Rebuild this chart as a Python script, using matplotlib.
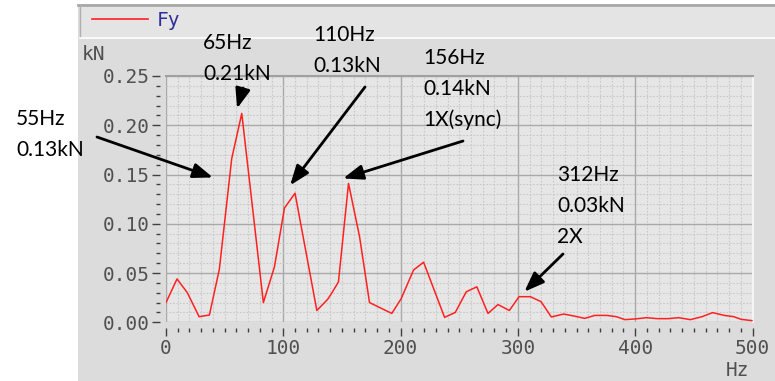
import matplotlib
matplotlib.use("Agg")
from matplotlib import pyplot as plt
from matplotlib.patches import Rectangle
from matplotlib.lines import Line2D
from matplotlib.ticker import MultipleLocator

# spectrum of Fy (frequency in Hz, amplitude in kN)
freq = [0, 9.4, 18.2, 28.2, 37, 45.5, 56, 64.6, 83, 92.4, 101, 110, 128.6, 137.6, 141,
        147, 155.6, 165, 173.5, 183, 192.5, 200.5, 211, 219.6, 237.5, 246.6, 256, 265,
        274.5, 283, 292.7, 301, 310.6, 319.7, 328.5, 339, 347.7, 357, 365.6, 375.6, 384,
        391.3, 399.9, 409.7, 418.8, 428, 437, 447, 457, 466, 476, 484, 490.4, 499.5]
force = [0.020, 0.044, 0.030, 0.0057, 0.0074, 0.054, 0.166, 0.212, 0.020, 0.056, 0.116,
         0.131, 0.012, 0.023, 0.029, 0.041, 0.141, 0.087, 0.020, 0.0145, 0.009, 0.024,
         0.053, 0.061, 0.005, 0.010, 0.031, 0.036, 0.009, 0.018, 0.012, 0.026, 0.026,
         0.021, 0.0054, 0.0084, 0.0064, 0.004, 0.007, 0.007, 0.0057, 0.0027, 0.0034,
         0.0047, 0.0037, 0.0037, 0.0047, 0.0027, 0.0057, 0.0098, 0.007, 0.0057, 0.003,
         0.0017]

# callouts: text lines, text top-left (pixels), arrow tip (Hz, kN), arrow tail (pixels)
notes = [
    (["55Hz", "0.13kN"], (16, 119), (40, 0.147), (97, 137)),
    (["65Hz", "0.21kN"], (203, 43), (60.6, 0.217), (243, 88)),
    (["110Hz", "0.13kN"], (313, 35), (105.8, 0.139), (365, 87)),
    (["156Hz", "0.14kN", "1X(sync)"], (423, 58), (151, 0.146), (463, 141)),
    (["312Hz", "0.03kN", "2X"], (557, 175), (305.5, 0.031), (563, 254)),
]

W, H = 775, 381
fig = plt.figure(figsize=(W / 100, H / 100), dpi=100)
fig.patch.set_facecolor("white")


def fx(px):
    return px / W


def fy(py):
    return 1 - py / H


# window panel and legend strip
fig.patches.append(Rectangle((fx(78), 0), 1, fy(4), transform=fig.transFigure,
                             facecolor="#dcdcdc", edgecolor="none", zorder=-3))
fig.patches.append(Rectangle((fx(80), fy(37)), 1, fy(6) - fy(37), transform=fig.transFigure,
                             facecolor="#e4e4e4", edgecolor="none", zorder=-2))
fig.lines.append(Line2D([fx(78), 1], [fy(5), fy(5)], transform=fig.transFigure,
                        color="#a8a8a8", lw=2, zorder=-1))
fig.lines.append(Line2D([fx(80), fx(80)], [fy(37), fy(5)], transform=fig.transFigure,
                        color="#b0b0b0", lw=1, zorder=-1))
fig.lines.append(Line2D([fx(80), 1], [fy(37.5), fy(37.5)], transform=fig.transFigure,
                        color="white", lw=1.2, zorder=-1))
fig.lines.append(Line2D([fx(92), fx(148)], [fy(19), fy(19)], transform=fig.transFigure,
                        color="#ff2020", lw=1.2, zorder=-1))
mono = "DejaVu Sans Mono"
fig.text(fx(157), fy(20), "Fy", family=mono, fontsize=14, color="#2e2e9a",
         va="center", ha="left")

ax = fig.add_axes([fx(166), fy(322.3), fx(752.5) - fx(166), fy(76) - fy(322.3)])
ax.set_zorder(2)
ax.set_facecolor("#e6e6e6")
ax.plot(freq, force, color="#ff2020", lw=1.1, zorder=3)
ax.set_xlim(0, 500)
ax.set_ylim(0, 0.25)

ax.xaxis.set_major_locator(MultipleLocator(100))
ax.xaxis.set_minor_locator(MultipleLocator(10))
ax.yaxis.set_major_locator(MultipleLocator(0.05))
ax.yaxis.set_minor_locator(MultipleLocator(0.01))
ax.yaxis.set_major_formatter(plt.FormatStrFormatter("%.2f"))

ax.grid(which="major", color="#a9a9a9", lw=1, zorder=1)
ax.grid(which="minor", color="#c8c8c8", lw=0.8, ls=(0, (1.5, 1.5)), zorder=0)
ax.set_axisbelow(True)

# ticks sit a few pixels away from the plot frame
for side in ["left", "bottom"]:
    ax.spines[side].set_position(("outward", 4))
    ax.spines[side].set_color("none")
ax.spines["top"].set_color("#a0a0a0")
ax.spines["top"].set_linewidth(1.5)
ax.spines["right"].set_color("#f4f4f4")
ax.spines["right"].set_linewidth(1.5)

ax.tick_params(which="both", direction="out", color="#404040", width=1,
               labelcolor="#505050", labelsize=14, pad=2)
ax.tick_params(which="major", length=6)
ax.tick_params(which="minor", length=3)
for lab in ax.get_xticklabels() + ax.get_yticklabels():
    lab.set_family(mono)

fig.text(fx(82), fy(54), "kN", family=mono, fontsize=14, color="#505050",
         va="center", ha="left")
fig.text(fx(726), fy(370), "Hz", family=mono, fontsize=14, color="#505050",
         va="center", ha="left")

# callout text and arrows
for lines, (tx, ty), tip, tail in notes:
    for i, s in enumerate(lines):
        fig.text(fx(tx), fy(ty + 31 * i), s, family="Lato", fontsize=15,
                 color="black", va="center", ha="left", zorder=5)
    ax.annotate("", xy=tip, xycoords="data", xytext=(tail[0], H - tail[1]),
                textcoords="figure pixels", annotation_clip=False,
                arrowprops=dict(arrowstyle="-|>,head_length=1.2,head_width=0.45",
                                color="black", lw=2, shrinkA=0, shrinkB=0))

fig.savefig("out.png", dpi=100)
